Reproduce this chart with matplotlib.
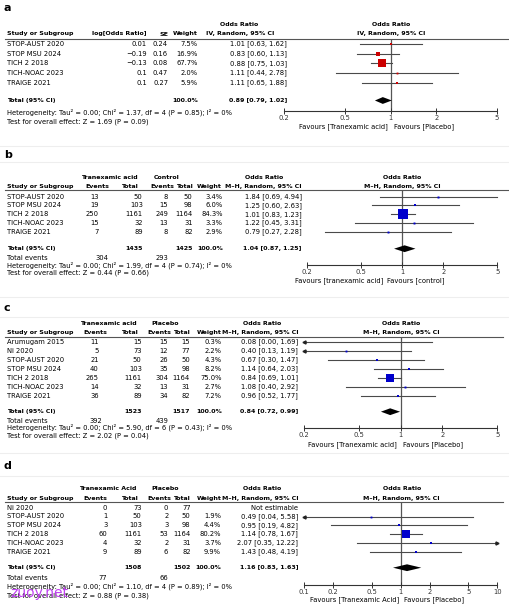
import matplotlib as mpl
mpl.use('Agg')
import matplotlib.pyplot as plt
from matplotlib.lines import Line2D
from matplotlib.ticker import NullLocator

W, H = 509, 609
FS = 4.85   # body text
HS = 4.5    # bold header / total text

# ---------------- data ----------------
# panel a : generic inverse variance
a_studies = ['STOP-AUST 2020', 'STOP MSU 2024', 'TICH 2 2018', 'TICH-NOAC 2023', 'TRAIGE 2021']
a_logor = [0.01, -0.19, -0.13, 0.1, 0.1]
a_se = [0.24, 0.16, 0.08, 0.47, 0.27]
a_weight = [7.5, 16.9, 67.7, 2.0, 5.9]
a_or = [1.01, 0.83, 0.88, 1.11, 1.11]
a_lo = [0.63, 0.60, 0.75, 0.44, 0.65]
a_hi = [1.62, 1.13, 1.03, 2.78, 1.88]
a_total = [0.89, 0.79, 1.02]
a_het = 'Heterogeneity: Tau² = 0.00; Chi² = 1.37, df = 4 (P = 0.85); I² = 0%'
a_test = 'Test for overall effect: Z = 1.69 (P = 0.09)'

# panel b
b_studies = ['STOP-AUST 2020', 'STOP MSU 2024', 'TICH 2 2018', 'TICH-NOAC 2023', 'TRAIGE 2021']
b_ev1 = [13, 19, 250, 15, 7]
b_n1 = [50, 103, 1161, 32, 89]
b_ev2 = [8, 15, 249, 13, 8]
b_n2 = [50, 98, 1164, 31, 82]
b_weight = [3.4, 6.0, 84.3, 3.3, 2.9]
b_or = [1.84, 1.25, 1.01, 1.22, 0.79]
b_lo = [0.69, 0.60, 0.83, 0.45, 0.27]
b_hi = [4.94, 2.63, 1.23, 3.31, 2.28]
b_total = [1.04, 0.87, 1.25]
b_tot_n = [1435, 1425]
b_tot_ev = [304, 293]
b_het = 'Heterogeneity: Tau² = 0.00; Chi² = 1.99, df = 4 (P = 0.74); I² = 0%'
b_test = 'Test for overall effect: Z = 0.44 (P = 0.66)'

# panel c
c_studies = ['Arumugam 2015', 'Ni 2020', 'STOP-AUST 2020', 'STOP MSU 2024', 'TICH 2 2018',
             'TICH-NOAC 2023', 'TRAIGE 2021']
c_ev1 = [11, 5, 21, 40, 265, 14, 36]
c_n1 = [15, 73, 50, 103, 1161, 32, 89]
c_ev2 = [15, 12, 26, 35, 304, 13, 34]
c_n2 = [15, 77, 50, 98, 1164, 31, 82]
c_weight = [0.3, 2.2, 4.3, 8.2, 75.0, 2.7, 7.2]
c_or = [0.08, 0.40, 0.67, 1.14, 0.84, 1.08, 0.96]
c_lo = [0.00, 0.13, 0.30, 0.64, 0.69, 0.40, 0.52]
c_hi = [1.69, 1.19, 1.47, 2.03, 1.01, 2.92, 1.77]
c_total = [0.84, 0.72, 0.99]
c_tot_n = [1523, 1517]
c_tot_ev = [392, 439]
c_het = 'Heterogeneity: Tau² = 0.00; Chi² = 5.90, df = 6 (P = 0.43); I² = 0%'
c_test = 'Test for overall effect: Z = 2.02 (P = 0.04)'

# panel d
d_studies = ['Ni 2020', 'STOP-AUST 2020', 'STOP MSU 2024', 'TICH 2 2018', 'TICH-NOAC 2023',
             'TRAIGE 2021']
d_ev1 = [0, 1, 3, 60, 4, 9]
d_n1 = [73, 50, 103, 1161, 32, 89]
d_ev2 = [0, 2, 3, 53, 2, 6]
d_n2 = [77, 50, 98, 1164, 31, 82]
d_weight = [None, 1.9, 4.4, 80.2, 3.7, 9.9]
d_or = [None, 0.49, 0.95, 1.14, 2.07, 1.43]
d_lo = [None, 0.04, 0.19, 0.78, 0.35, 0.48]
d_hi = [None, 5.58, 4.82, 1.67, 12.22, 4.19]
d_total = [1.16, 0.83, 1.63]
d_tot_n = [1508, 1502]
d_tot_ev = [77, 66]
d_het = 'Heterogeneity: Tau² = 0.00; Chi² = 1.10, df = 4 (P = 0.89); I² = 0%'
d_test = 'Test for overall effect: Z = 0.88 (P = 0.38)'

# ---------------- drawing helpers ----------------
fig = plt.figure(figsize=(W / 100, H / 100), dpi=100)
fig.patch.set_facecolor('white')


def T(x, y, s, ha='left', bold=False, size=None, color='black', **kw):
    if size is None:
        size = HS if bold else FS
    fig.text(x / W, 1 - y / H, s, ha=ha, va='center', fontsize=size,
             fontweight='bold' if bold else 'normal', color=color, **kw)


def hline(y, x0, x1, color='#555555', lw=0.8):
    fig.add_artist(Line2D([x0 / W, x1 / W], [1 - y / H, 1 - y / H],
                          transform=fig.transFigure, color=color, lw=lw))


def ci_text(e, l, h):
    return f'{e:.2f} [{l:.2f}, {h:.2f}]'


def forest(x0, x1, ytop, ybot, lim, ticks, ys, est, lo, hi, wts, ytot, tot, color):
    ax = fig.add_axes([x0 / W, 1 - ybot / H, (x1 - x0) / W, (ybot - ytop) / H])
    ax.set_facecolor('none')
    ax.set_xscale('log')
    ax.set_xlim(lim)
    ax.set_ylim(ybot, ytop)
    for s in ['top', 'left', 'right']:
        ax.spines[s].set_visible(False)
    ax.spines['bottom'].set_color('#333333')
    ax.spines['bottom'].set_linewidth(0.8)
    ax.set_yticks([])
    ax.set_xticks(ticks)
    ax.set_xticklabels([f'{t:g}' for t in ticks])
    ax.xaxis.set_minor_locator(NullLocator())
    ax.tick_params(axis='x', direction='inout', length=4, width=0.7, pad=0.8,
                   labelsize=FS, colors='#333333')
    ax.axvline(1, color='#555555', lw=0.9, zorder=1)
    for y, e, l, h, w in zip(ys, est, lo, hi, wts):
        if e is None:
            continue
        l2 = max(l, lim[0])
        h2 = min(h, lim[1])
        ax.plot([l2, h2], [y, y], color='#4a4a4a', lw=0.8, zorder=2, clip_on=False)
        if l < lim[0]:
            ax.plot(lim[0], y, marker='<', ms=2.2, color='#222222', clip_on=False)
        if h > lim[1]:
            ax.plot(lim[1], y, marker='>', ms=2.2, color='#222222', clip_on=False)
        if lim[0] <= e <= lim[1]:
            ax.plot(e, y, marker='s', ms=1.2 + 0.065 * w, color=color, mec=color,
                    mew=0, zorder=3)
    e, l, h = tot
    ax.fill([l, e, h, e], [ytot, ytot - 3.4, ytot, ytot + 3.4], color='black', lw=0, zorder=3)
    return ax


# ---------------- separators / labels ----------------
for y in [146, 162, 297, 317, 453, 476]:
    hline(y, 0, W, color='#eeeeee', lw=0.8)
T(3, 8, 'a', bold=True, size=8)
T(4, 155, 'b', bold=True, size=8)
T(4, 308, 'c', bold=True, size=8)
T(4, 466, 'd', bold=True, size=8)

# ---------------- panel a ----------------
T(239, 24, 'Odds Ratio', ha='center', bold=True)
T(391, 24, 'Odds Ratio', ha='center', bold=True)
T(7, 34, 'Study or Subgroup', bold=True)
T(147, 34, 'log[Odds Ratio]', ha='right', bold=True)
T(168, 34, 'SE', ha='right', bold=True)
T(198, 34, 'Weight', ha='right', bold=True)
T(240, 34, 'IV, Random, 95% CI', ha='center', bold=True)
T(391, 34, 'IV, Random, 95% CI', ha='center', bold=True)
hline(39, 5, 508)
ya = [43.8 + 9.7 * i for i in range(len(a_studies))]
for y, nm, lg, se, w, e, l, h in zip(ya, a_studies, a_logor, a_se, a_weight, a_or, a_lo, a_hi):
    T(7, y, nm)
    T(147, y, f'{lg:g}'.replace('-', '\u2212'), ha='right')
    T(168, y, f'{se:g}', ha='right')
    T(198, y, f'{w:.1f}%', ha='right')
    T(287, y, ci_text(e, l, h), ha='right')
T(7, 100.5, 'Total (95% CI)', bold=True)
T(198, 100.5, '100.0%', ha='right', bold=True)
T(287, 100.5, ci_text(*a_total), ha='right', bold=True)
T(7, 112, a_het)
T(7, 122, a_test)
forest(284, 497, 39, 111, (0.2, 5), [0.2, 0.5, 1, 2, 5], ya, a_or, a_lo, a_hi, a_weight,
       100.5, a_total, '#cc0000')
T(388, 127, 'Favours [Tranexamic acid]', ha='right')
T(394, 127, 'Favours [Placebo]')


# ---------------- panels b, c, d (dichotomous) ----------------
def dich_panel(L, studies, ev1, n1, ev2, n2, wts, est, lo, hi, tot, tot_n, tot_ev,
               het, test, grp1, grp2, fav1, fav2, lim, ticks):
    T(L['g1'], L['h1'], grp1, ha='center', bold=True)
    T(L['g2'], L['h1'], grp2, ha='center', bold=True)
    T(L['orc'], L['h1'], 'Odds Ratio', ha='center', bold=True)
    T(L['fc'], L['h1'], 'Odds Ratio', ha='center', bold=True)
    T(7, L['h2'], 'Study or Subgroup', bold=True)
    for x, s in zip(L['hx'], ['Events', 'Total', 'Events', 'Total', 'Weight']):
        T(x, L['h2'], s, ha='right', bold=True)
    T(L['cx'][5], L['h2'], 'M\u2013H, Random, 95% CI', ha='right', bold=True)
    T(L['fc'], L['h2'], 'M\u2013H, Random, 95% CI', ha='center', bold=True)
    hline(L['line'], 5, L['lend'])
    ys = [L['y0'] + L['dy'] * i for i in range(len(studies))]
    cx = L['cx']
    for y, nm, a1, b1, a2, b2, w, e, l, h in zip(ys, studies, ev1, n1, ev2, n2, wts, est, lo, hi):
        T(7, y, nm)
        for x, v in zip(cx[:4], [a1, b1, a2, b2]):
            T(x, y, str(v), ha='right')
        if w is not None:
            T(cx[4], y, f'{w:.1f}%', ha='right')
            T(cx[5], y, ci_text(e, l, h), ha='right')
        else:
            T(cx[5], y, 'Not estimable', ha='right')
    yt = L['yt']
    T(7, yt, 'Total (95% CI)', bold=True)
    T(cx[1], yt, str(tot_n[0]), ha='right', bold=True)
    T(cx[3], yt, str(tot_n[1]), ha='right', bold=True)
    T(cx[4], yt, '100.0%', ha='right', bold=True)
    T(cx[5], yt, ci_text(*tot), ha='right', bold=True)
    T(7, L['ev'], 'Total events')
    T(L['evx'][0], L['ev'], str(tot_ev[0]), ha='right')
    T(L['evx'][1], L['ev'], str(tot_ev[1]), ha='right')
    T(7, L['het'], het)
    T(7, L['test'], test)
    forest(L['fx0'], L['fx1'], L['line'], L['ax'], lim, ticks, ys, est, lo, hi, wts,
           yt, tot, '#0000cc')
    T(L['favl'], L['fav'], fav1, ha='right')
    T(L['favr'], L['fav'], fav2)


Lb = dict(g1=109.5, g2=167, orc=264.5, fc=402, h1=177.3, h2=186.7,
          hx=[109, 138, 174, 193, 222], line=189.5, lend=508,
          y0=196.7, dy=8.75, yt=248.7, cx=[98.7, 142.7, 168.3, 192.7, 222.7, 301.7],
          ev=258.3, evx=[108, 168.3], het=265.3, test=272.7,
          fx0=307.3, fx1=497.3, ax=265, fav=280.7, favl=383, favr=387)
dich_panel(Lb, b_studies, b_ev1, b_n1, b_ev2, b_n2, b_weight, b_or, b_lo, b_hi, b_total,
           b_tot_n, b_tot_ev, b_het, b_test, 'Tranexamic acid', 'Control',
           'Favours [tranexamic acid]', 'Favours [control]', (0.2, 5), [0.2, 0.5, 1, 2, 5])

Lc = dict(g1=108, g2=165.5, orc=262, fc=401, h1=323.3, h2=332.7,
          hx=[107.3, 137.3, 171, 190, 221.7], line=336.7, lend=503,
          y0=341.7, dy=9.0, yt=411.7, cx=[98.7, 141.7, 168.3, 190, 221.7, 298.3],
          ev=421, evx=[102, 168.3], het=427.3, test=435.7,
          fx0=304, fx1=497.3, ax=428.3, fav=444.3, favl=396.7, favr=403.3)
dich_panel(Lc, c_studies, c_ev1, c_n1, c_ev2, c_n2, c_weight, c_or, c_lo, c_hi, c_total,
           c_tot_n, c_tot_ev, c_het, c_test, 'Tranexamic acid', 'Placebo',
           'Favours [Tranexamic acid]', 'Favours [Placebo]', (0.2, 5), [0.2, 0.5, 1, 2, 5])

Ld = dict(g1=108, g2=165.5, orc=262, fc=401.7, h1=489, h2=498.3,
          hx=[107.3, 137.3, 171, 190, 221.7], line=501.7, lend=503,
          y0=507.7, dy=8.8, yt=567.7, cx=[107.3, 141.7, 168.3, 190.7, 221, 298.3],
          ev=577.7, evx=[106.7, 168.3], het=586.7, test=595.7,
          fx0=304.3, fx1=497.3, ax=585, fav=599.3, favl=399, favr=404)
dich_panel(Ld, d_studies, d_ev1, d_n1, d_ev2, d_n2, d_weight, d_or, d_lo, d_hi, d_total,
           d_tot_n, d_tot_ev, d_het, d_test, 'Tranexamic Acid', 'Placebo',
           'Favours [Tranexamic Acid]', 'Favours [Placebo]', (0.1, 10),
           [0.1, 0.2, 0.5, 1, 2, 5, 10])

# watermark
T(10, 593, 'zuoy.net', size=10, color='#c040f0')

fig.savefig('out.png', dpi=100, facecolor='white')
